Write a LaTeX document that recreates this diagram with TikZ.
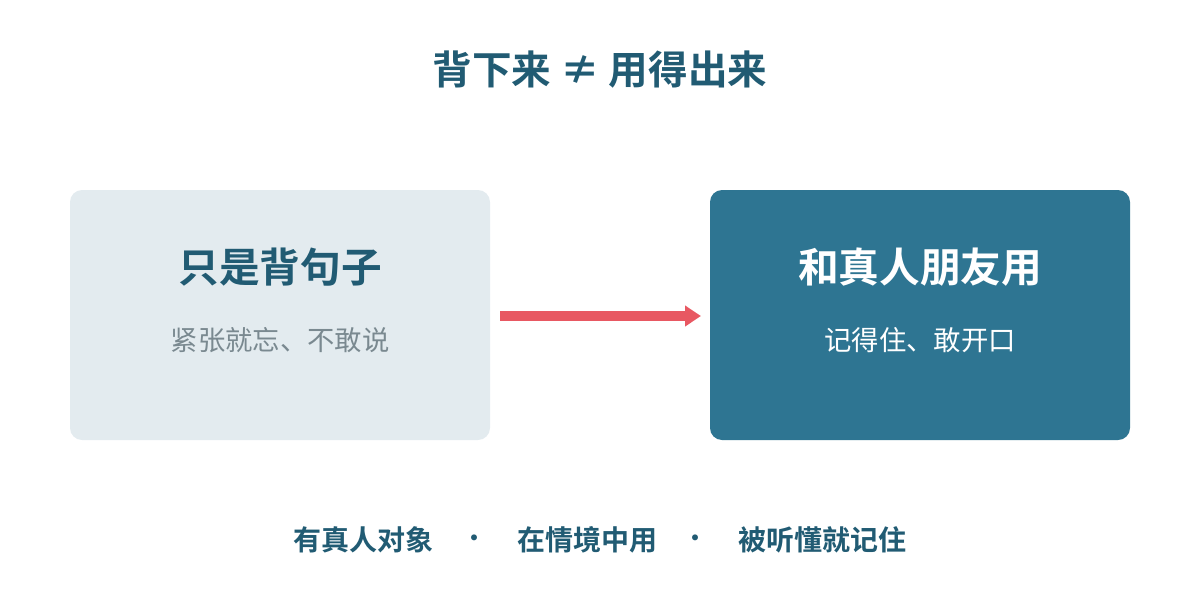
\documentclass[tikz,border=0pt]{standalone}
\usepackage{fontspec}
\setmainfont{Noto Sans CJK SC}
\newfontfamily\cjkb{Noto Sans CJK SC Bold}
\usetikzlibrary{arrows.meta}
\definecolor{teal}{HTML}{215B73}
\definecolor{boxlight}{HTML}{E3EBEF}
\definecolor{boxdark}{HTML}{2E7592}
\definecolor{subgray}{HTML}{7A8990}
\definecolor{arrowred}{HTML}{E85862}
\tikzset{
  card/.style={rounded corners=9pt, draw=none, minimum width=315pt, minimum height=187.5pt, inner sep=0pt},
  cardtitle/.style={font=\cjkb\fontsize{30.5}{33}\selectfont, inner sep=0pt},
  cardsub/.style={font=\fontsize{20.5}{23}\selectfont, inner sep=0pt},
  foot/.style={font=\cjkb\fontsize{21}{24}\selectfont, text=teal, inner sep=0pt},
  footdot/.style={font=\fontsize{21}{24}\selectfont, text=teal, inner sep=0pt},
}
\begin{document}
\begin{tikzpicture}[x=0.75pt,y=-0.75pt]
\useasboundingbox (0,0) rectangle (1200,600);
\node[font=\cjkb\fontsize{29.7}{33}\selectfont, text=teal, inner sep=0pt] (title) at (600,70) {背下来 ≠ 用得出来};
\node[card, fill=boxlight] (left) at (280,315) {};
\node[card, fill=boxdark] (right) at (920,315) {};
\node[cardtitle, text=teal] (lt) at (280,267) {只是背句子};
\node[cardsub, text=subgray] (ls) at (280,340) {紧张就忘、不敢说};
\node[cardtitle, text=white] (rt) at (920,267) {和真人朋友用};
\node[cardsub, text=white] (rs) at (920,340) {记得住、敢开口};
\coordinate (a1) at (500,316);
\coordinate (a2) at (701,316);
\draw[arrowred, line width=7.5pt, -{Triangle[length=12pt,width=15pt]}] (a1) -- (a2);
\node[foot] (f1) at (363,540) {有真人对象};
\node[footdot, anchor=base] (d1) at (474,548) {·};
\node[foot] (f2) at (587,540) {在情境中用};
\node[footdot, anchor=base] (d2) at (695,548) {·};
\node[foot] (f3) at (822,540) {被听懂就记住};
\end{tikzpicture}
\end{document}
